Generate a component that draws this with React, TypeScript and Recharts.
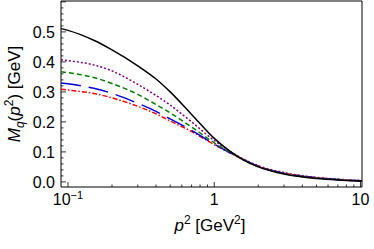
import React from "react";
import { LineChart, Line, XAxis, YAxis, ReferenceArea } from "recharts";

const p2 = [0.0896, 0.1, 0.15, 0.2, 0.3, 0.4, 0.5, 0.7, 1, 1.3, 1.6, 2, 3, 5, 7, 10, 10.24];
const black = [0.511, 0.505, 0.472, 0.44, 0.387, 0.343, 0.3, 0.225, 0.145, 0.1, 0.072, 0.05, 0.026, 0.011, 0.006, 0.003, 0.003];
const purple = [0.407, 0.404, 0.39, 0.37, 0.325, 0.288, 0.256, 0.2, 0.138, 0.1, 0.075, 0.054, 0.031, 0.015, 0.009, 0.005, 0.005];
const green = [0.367, 0.364, 0.348, 0.328, 0.292, 0.258, 0.23, 0.183, 0.13, 0.097, 0.073, 0.051, 0.028, 0.013, 0.008, 0.004, 0.004];
const blue = [0.33, 0.327, 0.312, 0.295, 0.262, 0.235, 0.21, 0.172, 0.126, 0.096, 0.073, 0.052, 0.029, 0.014, 0.008, 0.004, 0.004];
const red = [0.309, 0.306, 0.295, 0.28, 0.252, 0.227, 0.203, 0.168, 0.124, 0.095, 0.073, 0.052, 0.029, 0.014, 0.008, 0.004, 0.004];

const xTicks = [0.1, 0.2, 0.3, 0.4, 0.5, 0.6, 0.7, 0.8, 0.9, 1, 2, 3, 4, 5, 6, 7, 8, 9, 10];
const xMajor = [0.1, 1, 10];
const yTicks = Array.from({ length: 31 }, (_, i) => Math.round(i * 2) / 100);
const yLabels = [0, 0.1, 0.2, 0.3, 0.4, 0.5];

const xDomain = [0.0896, 10.24];
const yDomain = [-0.017, 0.603];

const data = p2.map((p, i) => ({ p, black: black[i], purple: purple[i], green: green[i], blue: blue[i], red: red[i] }));

const FONT = "'Liberation Sans', Arial, sans-serif";

const YTick = (props: any) => {
  const { x, y, payload } = props;
  const v = payload.value;
  const major = yLabels.some((m) => Math.abs(m - v) < 1e-6) || Math.abs(v - 0.6) < 1e-6;
  const showLabel = yLabels.some((m) => Math.abs(m - v) < 1e-6);
  return (
    <g>
      <line x1={x} x2={x + (major ? 5 : 2.5)} y1={y} y2={y} stroke="#000" strokeWidth={0.8} />
      {showLabel && (
        <text x={x - 6} y={y} dy="0.36em" textAnchor="end" fontSize={16} fontFamily={FONT} fill="#000">
          {v.toFixed(1)}
        </text>
      )}
    </g>
  );
};

const XTick = (props: any) => {
  const { x, y, payload } = props;
  const v = payload.value;
  const major = xMajor.some((m) => Math.abs(m - v) < 1e-9);
  let label: React.ReactNode = null;
  if (Math.abs(v - 0.1) < 1e-9) {
    label = (
      <>
        <tspan>10</tspan>
        <tspan dy={-6} fontSize={11}>−1</tspan>
      </>
    );
  } else if (Math.abs(v - 1) < 1e-9) label = "1";
  else if (Math.abs(v - 10) < 1e-9) label = "10";
  return (
    <g>
      <line x1={x} x2={x} y1={y} y2={y - (major ? 5 : 2.5)} stroke="#000" strokeWidth={0.8} />
      {label && (
        <text x={x} y={y + 18} textAnchor="middle" fontSize={16} fontFamily={FONT} fill="#000">
          {label}
        </text>
      )}
    </g>
  );
};

export default function App() {
  return (
    <div style={{ position: "absolute", left: 0, top: 0, width: 374, height: 249, background: "#fff" }}>
      <LineChart width={374} height={249} data={data} margin={{ top: 1, right: 12, bottom: 0, left: 0 }}>
        <XAxis
          dataKey="p"
          type="number"
          scale="log"
          domain={xDomain}
          allowDataOverflow
          ticks={xTicks}
          interval={0}
          tick={<XTick />}
          tickLine={false}
          axisLine={false}
          tickSize={0}
          tickMargin={0}
          height={62}
        />
        <YAxis
          type="number"
          domain={yDomain}
          allowDataOverflow
          ticks={yTicks}
          interval={0}
          tick={<YTick />}
          tickLine={false}
          axisLine={false}
          tickSize={0}
          tickMargin={0}
          width={61}
        />
        <ReferenceArea x1={xDomain[0]} x2={xDomain[1]} y1={yDomain[0]} y2={yDomain[1]} fill="none" stroke="#000" strokeWidth={1} fillOpacity={0} />
        <Line type="monotone" dataKey="red" stroke="#ff0000" strokeWidth={1.5} strokeDasharray="5 2 1.5 2" dot={false} isAnimationActive={false} />
        <Line type="monotone" dataKey="blue" stroke="#0000dd" strokeWidth={1.5} strokeDasharray="20 8" dot={false} isAnimationActive={false} />
        <Line type="monotone" dataKey="green" stroke="#008000" strokeWidth={1.5} strokeDasharray="5 3" dot={false} isAnimationActive={false} />
        <Line type="monotone" dataKey="purple" stroke="#800080" strokeWidth={1.5} strokeDasharray="2 2" dot={false} isAnimationActive={false} />
        <Line type="monotone" dataKey="black" stroke="#000000" strokeWidth={1.5} dot={false} isAnimationActive={false} />
      </LineChart>
      <svg width={374} height={249} style={{ position: "absolute", left: 0, top: 0, pointerEvents: "none" }}>
        <text transform="translate(20,94) rotate(-90)" textAnchor="middle" fontSize={17} fontFamily={FONT} fill="#000">
          <tspan fontStyle="italic">M</tspan>
          <tspan fontStyle="italic" fontSize={12} dy={4}>q</tspan>
          <tspan dy={-4}>(</tspan>
          <tspan fontStyle="italic">p</tspan>
          <tspan fontSize={12} dy={-7}>2</tspan>
          <tspan dy={7}>) [GeV]</tspan>
        </text>
        <text x={210} y={231} textAnchor="middle" fontSize={17} fontFamily={FONT} fill="#000">
          <tspan fontStyle="italic">p</tspan>
          <tspan fontSize={12} dy={-7}>2</tspan>
          <tspan dy={7}> [GeV</tspan>
          <tspan fontSize={12} dy={-7}>2</tspan>
          <tspan dy={7}>]</tspan>
        </text>
      </svg>
    </div>
  );
}
